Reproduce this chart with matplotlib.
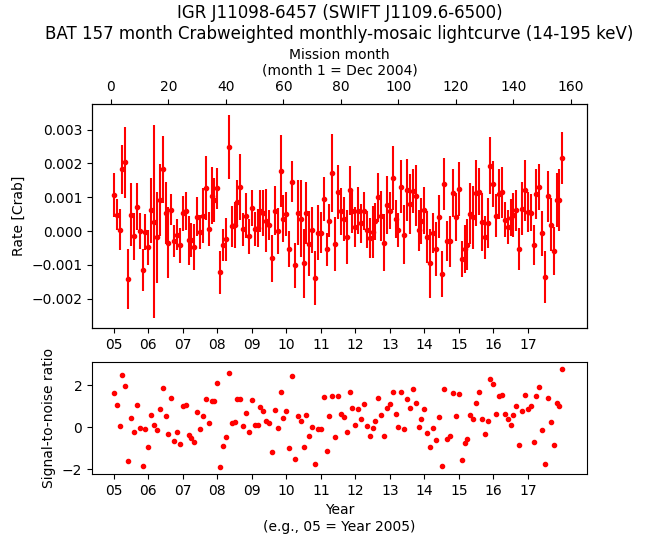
import numpy as np
import matplotlib
matplotlib.use("Agg")
import matplotlib.pyplot as plt

# mission month index (month 1 = Dec 2004)
months = np.arange(1, 158)

# rate in units of 1e-3 Crab
rate_e3 = [
    1.07, 0.48, 0.04, 1.83, 2.04, -1.43, 0.48, -0.16, 0.72, 0.00,
    -1.15, -0.03, -0.48, 0.61, 0.28, -0.18, 0.92, 1.83, 0.54, -0.34,
    0.63, -0.30, -0.11, -0.42, 0.52, 0.60, -0.27, -0.27, -0.48, 0.43,
    -0.03, 0.46, 1.27, 0.07, 1.05, 0.92, 1.27, -1.22, -0.42, -0.24,
    2.49, 0.14, 0.19, 0.87, 1.31, 0.05, 0.46, -0.16, 0.68, 0.07,
    0.09, 0.60, 0.54, 0.31, 0.17, -0.81, 0.60, 0.00, 1.78, 0.37,
    0.51, -0.52, 1.46, -1.01, 0.54, 0.37, -0.96, 0.54, -0.37, 0.02,
    -1.40, -0.05, -0.05, 0.95, -0.54, 0.31, 1.71, -0.37, 1.16, 0.58,
    0.36, -0.18, 1.21, 0.58, 0.12, 0.60, 0.23, 0.60, 0.04, -0.20,
    -0.03, 0.29, 1.00, 0.46, -0.34, 0.78, 0.60, 1.57, 0.36, 0.02,
    1.31, -0.11, 1.21, 0.80, 1.19, 1.05, 0.02, 0.29, 0.61, -0.18,
    -0.96, -0.06, -0.54, 0.43, -1.27, 1.39, -0.30, -0.30, 1.13, 0.43,
    1.24, -0.83, -0.54, -0.40, 0.51, 0.41, 1.13, 1.17, 0.28, -0.18,
    0.24, 1.93, 1.39, 0.46, 1.10, 1.15, 0.33, 0.13, 0.40, 0.47,
    0.62, -0.53, 0.66, 1.21, 0.56, 0.54, -0.42, 1.10, 1.30, -0.07,
    -1.37, 1.03, 0.19, -0.60, 0.92, 0.92, 2.15,
]

# 1-sigma error in units of 1e-3 Crab
err_e3 = [
    0.66, 0.46, 0.61, 0.73, 1.05, 0.89, 0.93, 0.70, 0.69, 0.53,
    0.61, 0.54, 0.51, 0.97, 2.86, 1.35, 1.06, 0.99, 0.91, 1.04,
    0.46, 0.47, 0.46, 0.52, 0.51, 0.57, 0.72, 0.51, 0.68, 0.59,
    0.50, 0.82, 0.95, 0.50, 0.85, 0.65, 0.61, 0.64, 0.47, 0.64,
    0.96, 0.61, 0.68, 0.65, 0.98, 0.48, 0.68, 0.51, 0.53, 0.50,
    0.55, 0.63, 0.69, 0.94, 0.44, 0.69, 0.73, 0.68, 1.07, 0.70,
    0.65, 0.53, 0.60, 0.67, 0.96, 1.13, 1.01, 0.92, 0.95, 0.68,
    0.80, 0.82, 0.60, 0.66, 0.48, 0.49, 1.16, 0.80, 0.79, 0.70,
    0.65, 0.80, 0.73, 0.64, 0.59, 0.69, 0.58, 0.56, 0.54, 0.59,
    0.78, 0.54, 0.72, 0.74, 0.84, 0.86, 0.55, 0.95, 0.56, 0.50,
    0.79, 0.87, 0.91, 0.88, 0.66, 0.91, 0.61, 0.68, 0.70, 0.77,
    1.01, 0.60, 0.80, 0.64, 0.68, 0.77, 0.60, 0.76, 0.70, 0.71,
    0.79, 0.54, 0.71, 0.76, 0.90, 0.93, 0.98, 0.70, 0.86, 0.64,
    0.73, 0.84, 0.68, 0.64, 0.75, 0.76, 0.52, 0.50, 0.55, 0.65,
    0.61, 0.62, 0.78, 0.90, 0.60, 0.55, 0.59, 0.75, 0.69, 0.66,
    0.77, 0.75, 0.78, 0.71, 0.80, 0.91, 0.77,
]

# signal-to-noise ratio
snr = [
    1.61, 1.05, 0.03, 2.50, 1.94, -1.60, 0.45, -0.25, 1.05, -0.06,
    -1.88, -0.11, -0.95, 0.59, 0.08, -0.16, 0.87, 1.84, 0.54, -0.34,
    1.38, -0.67, -0.25, -0.81, 1.01, 1.05, -0.39, -0.53, -0.71, 0.73,
    -0.11, 0.54, 1.33, 0.17, 1.24, 1.24, 2.08, -1.92, -0.90, -0.48,
    2.59, 0.17, 0.22, 1.33, 1.33, 0.03, 0.68, -0.25, 1.29, 0.12,
    0.12, 0.96, 0.78, 0.31, 0.17, -1.18, 0.82, -0.06, 1.66, 0.45,
    0.78, -0.99, 2.45, -1.50, 0.54, 0.31, -0.95, 0.59, -0.43, -0.02,
    -1.74, -0.11, -0.11, 1.43, -1.13, 0.54, 1.47, -0.48, 1.47, 0.64,
    0.50, -0.25, 1.66, 0.91, 0.08, 0.87, 0.40, 1.10, 0.03, -0.43,
    -0.06, 0.31, 1.38, 0.59, -0.43, 0.91, 1.10, 1.66, 0.64, -0.02,
    1.66, -0.11, 1.33, 0.91, 1.80, 1.15, -0.02, 0.40, 0.87, -0.29,
    -0.95, -0.06, -0.62, 0.50, -1.88, 1.80, -0.57, -0.43, 1.61, 0.54,
    1.57, -1.55, -0.76, -0.57, 0.59, 0.40, 1.15, 1.66, 0.36, -0.34,
    0.31, 2.31, 2.03, 0.64, 1.47, 1.52, 0.64, 0.36, 0.08, 0.59,
    1.01, -0.85, 0.78, 1.52, 0.87, 1.01, -0.71, 1.47, 1.89, -0.16,
    -1.78, 1.38, 0.22, -0.85, 1.15, 1.01, 2.78,
]

year_labels = ["05", "06", "07", "08", "09", "10", "11", "12", "13", "14", "15", "16", "17"]
year_ticks = [1 + 12 * i for i in range(len(year_labels))]   # Jan of each year in mission months
month_ticks = [0, 20, 40, 60, 80, 100, 120, 140, 160]

rate = np.array(rate_e3) * 1e-3
err = np.array(err_e3) * 1e-3
xlim = (-6.6, 165.6)

fig = plt.figure(figsize=(6.46, 5.43), dpi=100)
ax1 = fig.add_axes([0.1424, 0.3959, 0.7663, 0.4125])
ax2 = fig.add_axes([0.1424, 0.1270, 0.7663, 0.2063])

ax1.errorbar(months, rate, yerr=err, fmt="o", color="red", ms=3, elinewidth=1.5, capsize=0)
ax1.set_xlim(*xlim)
ax1.set_ylim(-0.00287, 0.00376)
ax1.set_xticks(year_ticks)
ax1.set_xticklabels(year_labels)
ax1.set_ylabel("Rate [Crab]")

top = ax1.twiny()
top.set_xlim(*xlim)
top.set_xticks(month_ticks)
top.set_xlabel("Mission month\n(month 1 = Dec 2004)")
ax1.set_title("IGR J11098-6457 (SWIFT J1109.6-6500)\n"
              "BAT 157 month Crabweighted monthly-mosaic lightcurve (14-195 keV)")

ax2.plot(months, snr, "o", color="red", ms=3)
ax2.set_xlim(*xlim)
ax2.set_ylim(-2.24, 3.1)
ax2.set_yticks([-2, 0, 2])
ax2.set_xticks(year_ticks)
ax2.set_xticklabels(year_labels)
ax2.set_ylabel("Signal-to-noise ratio")
ax2.set_xlabel("Year\n(e.g., 05 = Year 2005)")

fig.savefig("out.png", dpi=100)
